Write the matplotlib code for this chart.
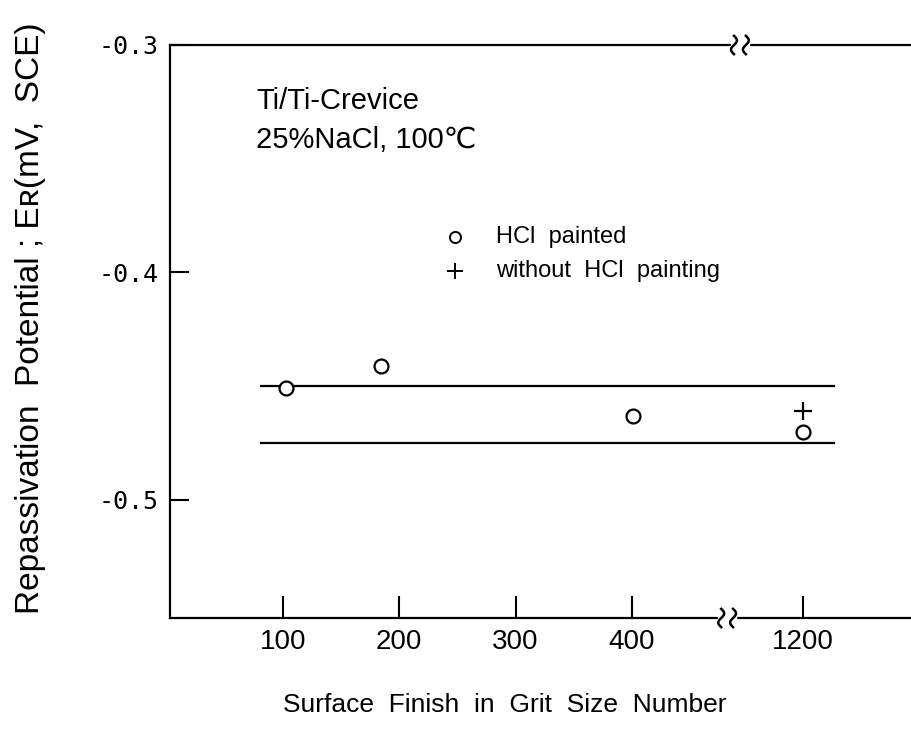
import numpy as np
import matplotlib.pyplot as plt

plt.rcParams['font.family'] = ['Liberation Sans', 'DejaVu Sans']
plt.rcParams['axes.unicode_minus'] = False

# grit size -> position on the broken x axis
tick_grit = [100, 200, 300, 400, 1200]
tick_pos = [1, 2, 3, 4, 5.47]
tick_labels = ['100', '200', '300', '400', '1200']

# HCl painted (open circles)
painted_grit = [103, 184, 404, 1200]
painted_er = [-0.451, -0.441, -0.463, -0.470]

# without HCl painting (plus)
plain_grit = [1200]
plain_er = [-0.461]

# scatter band of the data
band_er = [-0.450, -0.475]
band_x = [0.81, 5.74]

yticks = [-0.3, -0.4, -0.5]
ytick_labels = ['-0.3', '-0.4', '-0.5']


def grit_pos(g):
    return np.interp(g, tick_grit, tick_pos)


fig = plt.figure(figsize=(9.12, 7.33), dpi=100)
ax = fig.add_axes([170 / 912, 1 - 618 / 733, 1 - 170 / 912, (618 - 45) / 733])
ax.set_xlim(0.028, 6.41)
ax.set_ylim(-0.552, -0.3)

for y in band_er:
    ax.plot(band_x, [y, y], color='black', lw=1.6, zorder=2)

ax.plot(grit_pos(painted_grit), painted_er, 'o', ms=10, mfc='white', mec='black',
        mew=1.6, zorder=3, clip_on=False)
ax.plot(grit_pos(plain_grit), plain_er, '+', ms=13, mec='black', mew=1.6, zorder=3)

# legend written as text
ax.plot([2.48], [-0.3844], 'o', ms=8, mfc='white', mec='black', mew=1.4)
ax.plot([2.48], [-0.3993], '+', ms=11, mec='black', mew=1.4)
ax.text(2.83, -0.3844, 'HCl  painted', fontsize=17, va='center')
ax.text(2.83, -0.3993, 'without  HCl  painting', fontsize=17, va='center')

ax.text(0.77, -0.3245, 'Ti/Ti-Crevice', fontsize=21, va='center')
ax.text(0.77, -0.342, '25%NaCl, 100℃', fontsize=21, va='center')

ax.set_xticks(tick_pos)
ax.set_xticklabels(tick_labels, fontsize=20)
ax.set_yticks(yticks)
ax.set_yticklabels(ytick_labels, fontsize=18, family=['DejaVu Sans Mono'])
ax.tick_params(axis='x', direction='in', length=16, width=1.5, pad=8)
ax.tick_params(axis='y', direction='in', length=14, width=1.5, pad=8)

ax.spines['right'].set_visible(False)
for s in ['left', 'top', 'bottom']:
    ax.spines[s].set_linewidth(1.6)

# axis break marks on the top and bottom spines
t = np.linspace(-1, 1, 20)
for xb, yb in [(4.93, 1.0), (4.82, 0.0)]:
    xa = (xb - 0.028) / (6.41 - 0.028)
    ax.add_patch(plt.Rectangle((xa - 0.012, yb - 0.01), 0.024, 0.02, transform=ax.transAxes,
                               color='white', zorder=5, clip_on=False))
    for dx in (-0.008, 0.008):
        ax.plot(xa + dx + 0.004 * np.sin(t * np.pi),
                yb + 0.016 * t, color='black', lw=1.8, transform=ax.transAxes,
                zorder=6, clip_on=False)

fig.text(505 / 912, 1 - 705 / 733, 'Surface  Finish  in  Grit  Size  Number', fontsize=19,
         ha='center', va='center')
fig.text(0.033, 1 - 318 / 733, 'Repassivation  Potential ; Eʀ(mV,  SCE)', fontsize=24,
         rotation=90, ha='center', va='center')

fig.savefig('out.png', dpi=100)
